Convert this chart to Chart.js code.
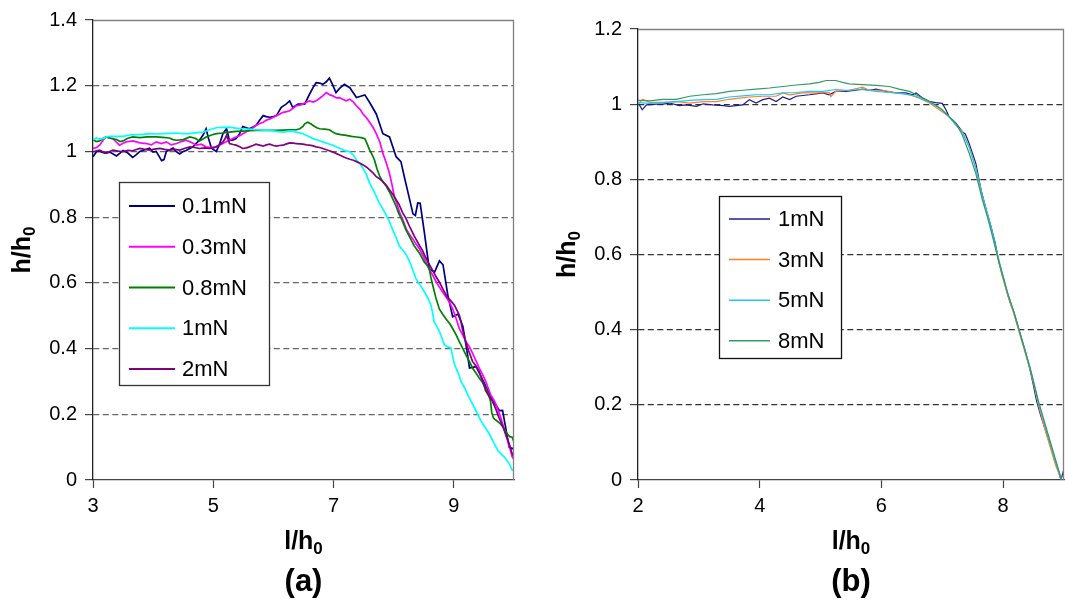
<!DOCTYPE html>
<html><head><meta charset="utf-8">
<script src="https://cdn.jsdelivr.net/npm/chart.js@4.4.1/dist/chart.umd.min.js"></script>
<style>
html,body{margin:0;padding:0;background:#fff;width:1065px;height:600px;overflow:hidden}
#ca{position:absolute;left:0;top:0}
#cb{position:absolute;left:532px;top:0}
</style></head><body>
<canvas id="ca" width="532" height="600"></canvas>
<canvas id="cb" width="533" height="600"></canvas>
<script>
// ---------- data: panel (a) ----------
const labelsA = ['0.1mN','0.3mN','0.8mN','1mN','2mN'];
const xTicksA = [3,5,7,9];
const yTicksA = [0,0.2,0.4,0.6,0.8,1,1.2,1.4];
const a01 = [[3.00,0.984],[3.06,1.000],[3.11,1.000],[3.20,0.995],[3.28,0.998],[3.39,0.986],[3.45,0.995],[3.50,1.003],[3.58,0.995],[3.66,0.982],[3.72,0.990],[3.78,1.000],[3.86,1.005],[3.94,1.010],[4.00,0.998],[4.05,1.000],[4.10,0.985],[4.14,0.972],[4.18,0.975],[4.22,1.000],[4.28,1.005],[4.33,1.010],[4.38,1.000],[4.44,0.992],[4.50,1.000],[4.55,1.003],[4.60,1.008],[4.66,1.014],[4.72,1.025],[4.77,1.034],[4.83,1.050],[4.88,1.069],[4.92,1.040],[4.97,1.010],[5.05,1.000],[5.10,1.020],[5.16,1.054],[5.22,1.069],[5.27,1.033],[5.33,1.035],[5.38,1.039],[5.44,1.055],[5.49,1.076],[5.55,1.072],[5.60,1.069],[5.66,1.074],[5.71,1.079],[5.77,1.095],[5.83,1.109],[5.88,1.106],[5.94,1.104],[6.00,1.106],[6.05,1.109],[6.13,1.134],[6.21,1.144],[6.27,1.154],[6.32,1.134],[6.41,1.144],[6.52,1.144],[6.60,1.174],[6.66,1.195],[6.71,1.209],[6.77,1.208],[6.82,1.204],[6.88,1.212],[6.93,1.223],[6.98,1.205],[7.04,1.179],[7.10,1.192],[7.18,1.204],[7.27,1.194],[7.33,1.178],[7.38,1.164],[7.45,1.168],[7.52,1.172],[7.60,1.149],[7.71,1.114],[7.82,1.054],[7.93,1.044],[8.04,0.984],[8.12,0.969],[8.18,0.920],[8.24,0.873],[8.32,0.810],[8.36,0.805],[8.40,0.843],[8.44,0.842],[8.51,0.753],[8.59,0.643],[8.68,0.633],[8.76,0.667],[8.82,0.655],[8.90,0.562],[8.98,0.497],[9.07,0.505],[9.15,0.467],[9.21,0.402],[9.26,0.341],[9.37,0.345],[9.46,0.312],[9.54,0.281],[9.65,0.241],[9.76,0.211],[9.81,0.212],[9.87,0.150],[9.92,0.100],[9.98,0.095],[10.0,0.100]];
const a03 = [[3.00,1.009],[3.06,1.012],[3.11,1.019],[3.17,1.035],[3.22,1.044],[3.28,1.040],[3.33,1.039],[3.39,1.028],[3.44,1.019],[3.50,1.025],[3.55,1.029],[3.66,1.032],[3.78,1.026],[3.89,1.024],[3.97,1.020],[4.05,1.029],[4.14,1.024],[4.22,1.029],[4.30,1.020],[4.39,1.024],[4.47,1.030],[4.55,1.034],[4.63,1.028],[4.72,1.019],[4.80,1.022],[4.88,1.014],[4.96,1.012],[5.05,1.014],[5.10,1.020],[5.16,1.024],[5.22,1.030],[5.27,1.034],[5.33,1.040],[5.38,1.044],[5.44,1.048],[5.49,1.054],[5.55,1.060],[5.60,1.064],[5.66,1.072],[5.71,1.079],[5.77,1.085],[5.83,1.089],[5.88,1.095],[5.94,1.099],[6.00,1.104],[6.05,1.109],[6.10,1.113],[6.16,1.119],[6.22,1.121],[6.27,1.124],[6.33,1.132],[6.38,1.139],[6.44,1.141],[6.49,1.144],[6.55,1.150],[6.60,1.154],[6.66,1.150],[6.71,1.154],[6.77,1.162],[6.82,1.169],[6.88,1.179],[6.94,1.172],[6.99,1.169],[7.05,1.163],[7.10,1.164],[7.16,1.158],[7.21,1.154],[7.27,1.159],[7.33,1.150],[7.38,1.139],[7.44,1.128],[7.49,1.114],[7.55,1.102],[7.60,1.089],[7.66,1.072],[7.71,1.054],[7.77,1.028],[7.82,0.994],[7.88,0.963],[7.93,0.933],[7.97,0.900],[8.01,0.863],[8.06,0.838],[8.10,0.813],[8.16,0.788],[8.21,0.763],[8.26,0.748],[8.32,0.733],[8.37,0.718],[8.43,0.703],[8.50,0.678],[8.56,0.653],[8.65,0.623],[8.70,0.605],[8.76,0.587],[8.82,0.570],[8.87,0.557],[8.93,0.540],[8.98,0.521],[9.04,0.490],[9.09,0.461],[9.15,0.440],[9.20,0.421],[9.26,0.405],[9.31,0.386],[9.37,0.362],[9.42,0.341],[9.48,0.320],[9.53,0.300],[9.57,0.280],[9.61,0.260],[9.66,0.245],[9.70,0.230],[9.74,0.210],[9.78,0.190],[9.82,0.165],[9.86,0.140],[9.92,0.105],[9.97,0.070],[10.0,0.062]];
const a08 = [[3.00,1.036],[3.05,1.030],[3.11,1.032],[3.17,1.040],[3.22,1.044],[3.30,1.040],[3.39,1.036],[3.45,1.030],[3.50,1.032],[3.58,1.040],[3.66,1.044],[3.78,1.042],[3.90,1.044],[4.05,1.044],[4.16,1.043],[4.27,1.041],[4.33,1.036],[4.39,1.034],[4.50,1.036],[4.61,1.044],[4.70,1.040],[4.77,1.032],[4.83,1.038],[4.88,1.044],[4.97,1.050],[5.05,1.054],[5.16,1.056],[5.27,1.059],[5.38,1.061],[5.49,1.062],[5.60,1.063],[5.71,1.064],[5.88,1.064],[6.05,1.064],[6.16,1.065],[6.27,1.066],[6.38,1.066],[6.44,1.069],[6.49,1.076],[6.52,1.084],[6.57,1.089],[6.62,1.084],[6.66,1.079],[6.72,1.072],[6.77,1.069],[6.85,1.068],[6.93,1.066],[6.98,1.060],[7.04,1.054],[7.12,1.051],[7.21,1.049],[7.30,1.046],[7.38,1.044],[7.46,1.042],[7.52,1.039],[7.56,1.022],[7.60,1.004],[7.64,0.990],[7.68,0.974],[7.72,0.948],[7.77,0.923],[7.82,0.908],[7.88,0.893],[7.94,0.873],[7.99,0.853],[8.04,0.833],[8.08,0.813],[8.14,0.790],[8.20,0.763],[8.27,0.738],[8.34,0.713],[8.43,0.690],[8.51,0.663],[8.55,0.655],[8.59,0.643],[8.62,0.615],[8.65,0.592],[8.70,0.555],[8.76,0.520],[8.82,0.503],[8.87,0.490],[8.93,0.476],[8.98,0.461],[9.04,0.441],[9.09,0.421],[9.15,0.400],[9.20,0.381],[9.26,0.360],[9.31,0.341],[9.37,0.325],[9.42,0.311],[9.48,0.296],[9.53,0.281],[9.58,0.258],[9.61,0.240],[9.63,0.205],[9.66,0.188],[9.75,0.175],[9.80,0.165],[9.84,0.155],[9.89,0.140],[9.93,0.132],[9.97,0.130],[10.0,0.115]];
const a1 = [[3.00,1.036],[3.06,1.041],[3.11,1.038],[3.17,1.039],[3.22,1.044],[3.28,1.046],[3.39,1.046],[3.50,1.046],[3.61,1.050],[3.72,1.051],[3.83,1.052],[3.94,1.054],[4.05,1.053],[4.16,1.054],[4.27,1.055],[4.39,1.056],[4.50,1.054],[4.61,1.054],[4.72,1.057],[4.83,1.059],[4.94,1.066],[5.05,1.072],[5.16,1.073],[5.27,1.074],[5.38,1.071],[5.49,1.069],[5.60,1.068],[5.71,1.066],[5.83,1.065],[5.94,1.064],[6.05,1.061],[6.16,1.059],[6.24,1.061],[6.32,1.062],[6.40,1.058],[6.49,1.054],[6.57,1.047],[6.66,1.039],[6.74,1.034],[6.82,1.029],[6.90,1.024],[6.99,1.019],[7.08,1.011],[7.16,1.004],[7.22,1.001],[7.27,0.999],[7.33,0.988],[7.38,0.974],[7.44,0.962],[7.49,0.949],[7.55,0.928],[7.60,0.903],[7.66,0.883],[7.71,0.863],[7.76,0.843],[7.82,0.825],[7.87,0.808],[7.93,0.786],[7.98,0.763],[8.04,0.738],[8.09,0.713],[8.15,0.700],[8.20,0.688],[8.25,0.670],[8.29,0.653],[8.33,0.633],[8.37,0.613],[8.44,0.593],[8.51,0.573],[8.57,0.553],[8.62,0.532],[8.65,0.505],[8.67,0.482],[8.72,0.467],[8.76,0.452],[8.80,0.432],[8.84,0.412],[8.90,0.405],[8.95,0.402],[8.98,0.377],[9.01,0.352],[9.07,0.326],[9.12,0.300],[9.18,0.280],[9.23,0.260],[9.30,0.235],[9.37,0.210],[9.41,0.195],[9.45,0.180],[9.52,0.160],[9.59,0.140],[9.66,0.115],[9.73,0.090],[9.78,0.080],[9.84,0.070],[9.88,0.060],[9.92,0.050],[9.97,0.030],[10.0,0.028]];
const a2 = [[3.00,0.999],[3.06,1.002],[3.11,1.004],[3.17,0.998],[3.22,0.994],[3.28,1.000],[3.33,1.004],[3.42,1.001],[3.50,0.999],[3.58,1.003],[3.66,1.002],[3.72,1.006],[3.78,1.009],[3.86,1.006],[3.94,1.004],[4.02,1.007],[4.11,1.009],[4.19,1.006],[4.27,1.004],[4.36,1.006],[4.44,1.004],[4.52,1.009],[4.61,1.014],[4.69,1.012],[4.77,1.009],[4.86,1.011],[4.94,1.009],[5.00,1.011],[5.05,1.014],[5.11,1.020],[5.16,1.029],[5.20,1.040],[5.22,1.049],[5.25,1.035],[5.27,1.024],[5.33,1.021],[5.38,1.019],[5.44,1.014],[5.49,1.009],[5.55,1.011],[5.60,1.014],[5.66,1.018],[5.71,1.022],[5.77,1.019],[5.83,1.016],[5.88,1.020],[5.94,1.022],[6.00,1.018],[6.05,1.016],[6.10,1.018],[6.16,1.019],[6.22,1.023],[6.27,1.026],[6.33,1.025],[6.38,1.024],[6.44,1.023],[6.49,1.022],[6.55,1.020],[6.60,1.019],[6.66,1.017],[6.71,1.014],[6.77,1.012],[6.82,1.009],[6.88,1.005],[6.93,1.002],[6.99,0.998],[7.04,0.994],[7.10,0.989],[7.16,0.984],[7.21,0.980],[7.27,0.976],[7.33,0.973],[7.38,0.969],[7.44,0.964],[7.49,0.959],[7.55,0.952],[7.60,0.944],[7.66,0.934],[7.71,0.923],[7.77,0.916],[7.82,0.908],[7.88,0.896],[7.93,0.883],[7.99,0.868],[8.04,0.853],[8.09,0.838],[8.15,0.813],[8.20,0.798],[8.26,0.773],[8.30,0.758],[8.34,0.743],[8.37,0.733],[8.43,0.713],[8.48,0.698],[8.51,0.685],[8.58,0.660],[8.65,0.637],[8.70,0.620],[8.76,0.602],[8.82,0.580],[8.89,0.557],[8.95,0.545],[9.01,0.532],[9.05,0.517],[9.09,0.502],[9.12,0.482],[9.14,0.461],[9.18,0.432],[9.23,0.401],[9.27,0.381],[9.31,0.361],[9.37,0.346],[9.42,0.331],[9.48,0.300],[9.53,0.271],[9.58,0.256],[9.64,0.240],[9.70,0.215],[9.75,0.190],[9.81,0.165],[9.86,0.140],[9.92,0.110],[9.97,0.080],[10.0,0.070]];

// ---------- data: panel (b) ----------
const labelsB = ['1mN','3mN','5mN','8mN'];
const xTicksB = [2,4,6,8];
const yTicksB = [0,0.2,0.4,0.6,0.8,1,1.2];
const b1 = [[2.00,1.004],[2.07,0.985],[2.14,0.998],[2.30,1.000],[2.41,1.000],[2.52,1.003],[2.68,0.996],[2.79,0.998],[2.96,0.994],[3.07,1.001],[3.23,0.998],[3.40,0.996],[3.50,0.994],[3.61,0.996],[3.72,0.998],[3.83,1.012],[3.94,1.003],[4.05,1.012],[4.16,1.016],[4.27,1.007],[4.38,1.019],[4.49,1.012],[4.60,1.021],[4.82,1.025],[5.04,1.030],[5.14,1.025],[5.25,1.034],[5.42,1.034],[5.58,1.037],[5.69,1.040],[5.80,1.037],[5.91,1.040],[6.08,1.034],[6.24,1.030],[6.40,1.030],[6.51,1.025],[6.57,1.030],[6.68,1.016],[6.79,1.007],[6.89,1.004],[7.00,1.002],[7.06,0.985],[7.11,0.967],[7.22,0.950],[7.33,0.927],[7.38,0.920],[7.44,0.896],[7.55,0.843],[7.64,0.770],[7.72,0.720],[7.80,0.675],[7.87,0.630],[7.93,0.580],[8.00,0.540],[8.08,0.490],[8.12,0.470],[8.18,0.445],[8.27,0.395],[8.36,0.345],[8.44,0.295],[8.50,0.250],[8.55,0.210],[8.62,0.170],[8.70,0.130],[8.78,0.090],[8.87,0.045],[8.95,0.000],[9.00,0.030]];
const b3 = [[2.00,1.001],[2.08,1.013],[2.19,1.005],[2.41,1.005],[2.63,1.007],[2.85,1.003],[3.07,1.007],[3.29,1.007],[3.50,1.013],[3.67,1.016],[3.83,1.019],[4.05,1.021],[4.27,1.021],[4.38,1.030],[4.49,1.025],[4.71,1.030],[4.93,1.030],[5.14,1.031],[5.17,1.020],[5.25,1.034],[5.47,1.037],[5.69,1.045],[5.80,1.037],[6.02,1.037],[6.24,1.030],[6.46,1.025],[6.62,1.016],[6.79,1.003],[6.95,0.985],[7.11,0.967],[7.22,0.945],[7.33,0.927],[7.44,0.887],[7.55,0.830],[7.66,0.755],[7.75,0.700],[7.83,0.650],[7.90,0.600],[7.98,0.545],[8.07,0.495],[8.17,0.445],[8.26,0.395],[8.35,0.345],[8.44,0.295],[8.51,0.250],[8.58,0.200],[8.67,0.145],[8.76,0.095],[8.86,0.040],[8.96,0.000]];
const b5 = [[2.00,1.004],[2.19,1.002],[2.41,1.004],[2.63,1.007],[2.85,1.010],[3.07,1.012],[3.29,1.013],[3.50,1.019],[3.72,1.022],[3.94,1.025],[4.16,1.025],[4.38,1.030],[4.60,1.031],[4.82,1.034],[5.04,1.034],[5.25,1.039],[5.42,1.037],[5.69,1.039],[5.91,1.034],[6.13,1.031],[6.35,1.028],[6.57,1.021],[6.79,1.005],[6.95,0.990],[7.11,0.967],[7.22,0.945],[7.33,0.925],[7.44,0.887],[7.55,0.830],[7.66,0.755],[7.75,0.705],[7.83,0.655],[7.90,0.605],[7.98,0.555],[8.07,0.500],[8.17,0.450],[8.26,0.400],[8.35,0.350],[8.44,0.300],[8.51,0.255],[8.58,0.205],[8.67,0.155],[8.76,0.105],[8.86,0.050],[8.96,0.000]];
const b8 = [[2.00,1.010],[2.19,1.009],[2.41,1.013],[2.63,1.013],[2.85,1.021],[3.07,1.025],[3.29,1.028],[3.50,1.034],[3.72,1.037],[3.94,1.040],[4.16,1.043],[4.38,1.047],[4.60,1.051],[4.82,1.054],[4.98,1.058],[5.09,1.063],[5.25,1.063],[5.36,1.058],[5.47,1.054],[5.69,1.052],[5.91,1.050],[6.13,1.047],[6.29,1.040],[6.46,1.034],[6.62,1.021],[6.79,1.007],[6.89,0.998],[7.00,0.985],[7.11,0.967],[7.22,0.950],[7.33,0.918],[7.44,0.870],[7.55,0.816],[7.66,0.745],[7.75,0.695],[7.83,0.645],[7.90,0.600],[7.98,0.550],[8.07,0.500],[8.17,0.450],[8.26,0.400],[8.35,0.350],[8.44,0.300],[8.51,0.255],[8.58,0.210],[8.67,0.160],[8.76,0.110],[8.86,0.055],[8.96,0.000]];

// ---------- drawing ----------
const FONT = '"Liberation Sans", Arial, Helvetica, sans-serif';

function subText(ctx, main, sub, size, subSize, shift){
  ctx.font = `bold ${size}px ${FONT}`;
  const w1 = ctx.measureText(main).width;
  ctx.font = `bold ${subSize}px ${FONT}`;
  const w2 = ctx.measureText(sub).width;
  const x0 = -(w1 + w2) / 2;
  ctx.textAlign = 'left'; ctx.textBaseline = 'alphabetic'; ctx.fillStyle = '#000';
  ctx.font = `bold ${size}px ${FONT}`; ctx.fillText(main, x0, 0);
  ctx.font = `bold ${subSize}px ${FONT}`; ctx.fillText(sub, x0 + w1, shift);
}

const decor = {
  id: 'decor',
  afterDraw(chart, args, o) {
    const {ctx, chartArea: a} = chart;
    ctx.save();
    // top and right frame
    ctx.strokeStyle = o.frame; ctx.lineWidth = 1.3;
    ctx.beginPath();
    ctx.moveTo(a.left, a.top + 0.5); ctx.lineTo(a.right - 0.5, a.top + 0.5); ctx.lineTo(a.right - 0.5, a.bottom);
    ctx.stroke();
    // legend
    const L = o.legend;
    ctx.fillStyle = '#fff'; ctx.fillRect(L.x, L.y, L.w, L.h);
    ctx.strokeStyle = L.border; ctx.lineWidth = 1.3; ctx.strokeRect(L.x + 0.5, L.y + 0.5, L.w, L.h);
    ctx.font = `${L.font}px ${FONT}`; ctx.textBaseline = 'middle'; ctx.textAlign = 'left';
    chart.data.datasets.forEach((d, i) => {
      const y = L.y + L.first + i * L.step;
      ctx.strokeStyle = d.borderColor; ctx.lineWidth = L.lw;
      ctx.beginPath(); ctx.moveTo(L.x + L.l0, y); ctx.lineTo(L.x + L.l1, y); ctx.stroke();
      ctx.fillStyle = '#000'; ctx.fillText(d.label, L.x + L.tx, y + 1);
    });
    // axis titles
    const cx = (a.left + a.right) / 2, cy = (a.top + a.bottom) / 2;
    ctx.save(); ctx.translate(a.left - o.yTitleOff, cy); ctx.rotate(-Math.PI / 2);
    subText(ctx, 'h/h', '0', o.titleSize, o.subSize, o.subShift); ctx.restore();
    ctx.save(); ctx.translate(cx, o.xTitleY);
    subText(ctx, 'l/h', '0', o.titleSize, o.subSize, o.subShift); ctx.restore();
    ctx.font = `bold ${o.capSize}px ${FONT}`; ctx.textAlign = 'center'; ctx.textBaseline = 'alphabetic'; ctx.fillStyle = '#000';
    ctx.fillText(o.caption, cx, o.capY);
    ctx.restore();
  }
};

function mkSet(label, pts, color, lw, order) {
  return {label, data: pts.map(p => ({x: p[0], y: p[1]})), borderColor: color, backgroundColor: color,
    borderWidth: lw, showLine: true, pointRadius: 0, pointHoverRadius: 0, fill: false, tension: 0, order};
}
const fmt = v => String(Math.round(v * 10) / 10);

function makeChart(id, sets, xr, yr, xTicks, yTicks, lay, deco, gridColor) {
  return new Chart(document.getElementById(id), {
    type: 'scatter',
    data: {datasets: sets},
    plugins: [decor],
    options: {
      responsive: false, animation: false, devicePixelRatio: 1,
      layout: {padding: {left: 0, right: lay.right, top: lay.top, bottom: 0}},
      plugins: {legend: {display: false}, tooltip: {enabled: false}, decor: deco},
      scales: {
        x: {
          type: 'linear', min: xr[0], max: xr[1],
          afterBuildTicks: s => { s.ticks = xTicks.map(v => ({value: v})); },
          afterFit: s => { s.height = lay.xh; },
          grid: {drawOnChartArea: false, drawTicks: true, tickLength: 8, tickColor: '#444', tickWidth: 1.2},
          border: {display: true, color: '#444', width: 1.3},
          ticks: {autoSkip: false, maxRotation: 0, color: '#000', padding: 6, font: {family: FONT, size: 20}, callback: fmt}
        },
        y: {
          type: 'linear', min: yr[0], max: yr[1],
          afterBuildTicks: s => { s.ticks = yTicks.map(v => ({value: v})); },
          afterFit: s => { s.width = lay.yw; },
          grid: {
            color: c => (c.tick && (c.tick.value === yr[0] || c.tick.value === yr[1])) ? 'rgba(0,0,0,0)' : gridColor,
            lineWidth: 1.2, drawTicks: true, tickLength: 8, tickColor: '#444', tickWidth: 1.2
          },
          border: {display: true, color: '#222', width: 1.3, dash: [6, 3.5]},
          ticks: {autoSkip: false, color: '#000', padding: 8, font: {family: FONT, size: 20}, callback: fmt}
        }
      }
    }
  });
}

const colorsA = ['#000080', '#FF00FF', '#008000', '#00FFFF', '#800080'];
const setsA = [a01, a03, a08, a1, a2].map((p, i) => mkSet(labelsA[i], p, colorsA[i], 1.7, 5 - i));
makeChart('ca', setsA, [3, 10], [0, 1.4], xTicksA, yTicksA,
  {right: 18, top: 15, xh: 120, yw: 93},
  {frame: '#808080', yTitleOff: 63, xTitleY: 549, capY: 591, caption: '(a)', titleSize: 25, subSize: 17, subShift: 5, capSize: 31,
   legend: {x: 119, y: 182, w: 150, h: 203, first: 24, step: 40.75, l0: 10, l1: 56, tx: 63, font: 22, lw: 2, border: '#333'}},
  '#666');

const colorsB = ['#1c1c8c', '#FF7F2A', '#1EC8F5', '#339966'];
const setsB = [b1, b3, b5, b8].map((p, i) => mkSet(labelsB[i], p, colorsB[i], 1.2, 4 - i));
makeChart('cb', setsB, [2, 9], [0, 1.2], xTicksB, yTicksB,
  {right: 1, top: 29, xh: 120, yw: 106},
  {frame: '#808080', yTitleOff: 63, xTitleY: 549, capY: 591, caption: '(b)', titleSize: 25, subSize: 17, subShift: 5, capSize: 31,
   legend: {x: 187, y: 196, w: 122, h: 162, first: 23, step: 40.6, l0: 10, l1: 51, tx: 59, font: 22, lw: 1.5, border: '#111'}},
  '#333');
</script>
</body></html>
